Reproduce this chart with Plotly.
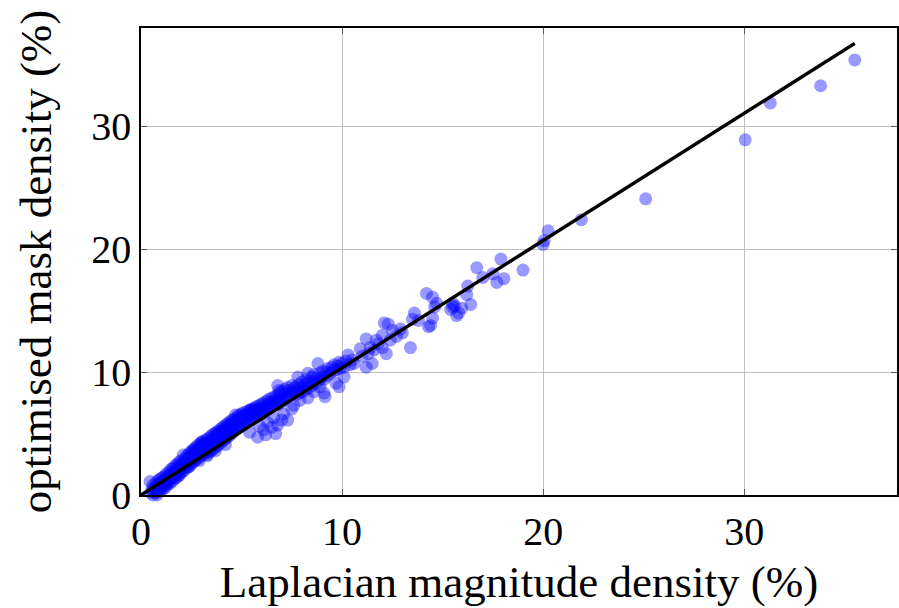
import plotly.graph_objects as go

# ---- data -----------------------------------------------------------------
# Laplacian magnitude density (%) -> lap_*, optimised mask density (%) -> opt_*
lap_a = [0.45, 0.5, 0.55, 0.6, 0.6, 0.65, 0.7, 0.7, 0.75, 0.75, 0.8, 0.8, 0.85, 0.85, 0.9, 0.9, 0.95, 0.95,
         1.0, 1.0, 1.05, 1.05, 1.1, 1.1, 1.15, 1.15, 1.2, 1.2, 1.25, 1.25, 1.3, 1.3, 1.35, 1.35, 1.4, 1.4,
         1.45, 1.45, 1.5, 1.5, 1.55, 1.55, 1.6, 1.6, 1.65, 1.65, 1.7, 1.7, 1.75, 1.75, 1.8, 1.8, 1.85, 1.85,
         1.9, 1.9, 1.95, 1.95, 2.0, 2.0]
opt_a = [1.10, 0.2, 0.5, 0.0, 0.8, 0.3, -0.1, 0.6, 1.0, 0.2, 0.5, 0.0, 0.8, 1.2, 0.3, 0.9, 0.6, 1.3,
         0.4, 1.0, 0.7, 1.4, 0.5, 1.1, 0.8, 1.5, 0.6, 1.2, 0.9, 1.7, 1.3, 0.8, 1.6, 1.05, 1.9, 1.2,
         0.95, 1.6, 2.1, 1.35, 1.8, 1.1, 1.55, 2.2, 1.3, 1.9, 2.4, 1.6, 2.05, 1.4, 2.5, 1.8, 2.2, 1.55,
         2.7, 2.0, 2.35, 1.75, 2.8, 2.1]

lap_b = [2.05, 2.05, 2.1, 2.1, 2.15, 2.15, 2.2, 2.2, 2.25, 2.25, 2.3, 2.3, 2.35, 2.35, 2.4, 2.4, 2.45, 2.45,
         2.5, 2.5, 2.55, 2.55, 2.6, 2.6, 2.65, 2.65, 2.7, 2.7, 2.75, 2.75, 2.8, 2.8, 2.85, 2.85, 2.9, 2.9,
         2.95, 2.95, 3.0, 3.0, 3.05, 3.05, 3.1, 3.1, 3.15, 3.15, 3.2, 3.2, 3.25, 3.25, 3.3, 3.3, 3.35, 3.35,
         3.4, 3.4, 3.45, 3.45, 3.5, 3.5]
opt_b = [2.5, 1.9, 3.25, 2.3, 2.75, 2.0, 3.0, 2.45, 2.2, 2.9, 3.2, 2.6, 2.3, 3.0, 3.4, 2.75, 2.45, 3.15,
         3.55, 2.9, 2.6, 3.3, 3.7, 3.0, 2.75, 3.45, 3.85, 3.15, 2.85, 3.6, 4.0, 3.3, 3.0, 3.75, 4.1, 3.45,
         3.15, 3.9, 4.25, 3.6, 3.3, 4.0, 4.4, 3.7, 3.4, 4.15, 4.2, 3.85, 3.5, 4.5, 4.0, 3.3, 4.6, 3.7,
         4.2, 3.5, 4.75, 3.9, 4.4, 3.6]

lap_c = [3.55, 3.55, 3.6, 3.6, 3.65, 3.65, 3.7, 3.7, 3.75, 3.75, 3.8, 3.8, 3.85, 3.85, 3.9, 3.9, 3.95, 3.95,
         4.0, 4.0, 4.05, 4.05, 4.1, 4.1, 4.15, 4.15, 4.2, 4.2, 4.25, 4.25, 4.3, 4.3, 4.35, 4.35, 4.4, 4.4,
         4.45, 4.45, 4.5, 4.5, 4.55, 4.55, 4.6, 4.6, 4.65, 4.65, 4.7, 4.7, 4.75, 4.75, 4.8, 4.8, 4.85, 4.85,
         4.9, 4.9, 4.95, 4.95, 5.0, 5.0]
opt_c = [4.9, 4.05, 4.55, 3.75, 5.0, 4.2, 4.7, 3.9, 5.1, 4.35, 4.85, 4.0, 5.2, 4.5, 5.0, 4.15, 5.35, 4.65,
         5.15, 4.3, 5.5, 4.8, 5.25, 4.45, 5.6, 4.9, 5.4, 4.6, 5.75, 5.05, 5.5, 4.7, 5.85, 5.15, 5.65, 4.85,
         6.0, 5.3, 5.8, 5.0, 6.1, 5.4, 5.9, 5.15, 6.2, 5.55, 6.5, 5.3, 6.05, 5.7, 6.3, 5.45, 5.85, 6.5,
         5.6, 6.15, 6.4, 5.75, 6.0, 6.6]

lap_d = [5.05, 5.1, 5.1, 5.15, 5.2, 5.2, 5.25, 5.3, 5.3, 5.35, 5.4, 5.4, 5.45, 5.5, 5.5, 5.55, 5.6, 5.6,
         5.65, 5.7, 5.7, 5.75, 5.8, 5.85, 5.9, 5.9, 5.95, 6.0, 6.0, 6.05, 6.1, 6.15, 6.2, 6.25, 6.3, 6.3,
         6.35, 6.4, 6.45, 6.5, 6.5, 6.55, 6.6, 6.65, 6.7, 6.75, 6.8, 6.8, 6.85, 6.9, 6.9, 6.95, 7.0, 7.05,
         7.1, 7.15, 7.2, 7.25, 7.3, 7.35, 7.4, 7.45, 7.5, 7.55, 7.6]
opt_d = [5.85, 6.3, 6.7, 6.05, 6.5, 5.9, 6.8, 6.25, 6.65, 6.0, 6.9, 6.45, 6.2, 6.75, 7.0, 6.4, 6.9, 6.55,
         7.1, 6.7, 6.35, 7.2, 6.9, 6.5, 7.3, 6.8, 7.05, 6.6, 7.4, 7.0, 7.5, 6.8, 7.2, 7.6, 7.0, 7.35,
         7.8, 7.1, 7.5, 7.9, 7.25, 7.65, 7.4, 8.0, 7.55, 7.3, 8.1, 8.9, 7.7, 7.45, 8.3, 7.9, 8.45, 7.65,
         8.1, 8.6, 7.9, 8.3, 8.75, 8.0, 8.5, 8.2, 8.9, 8.35, 8.65]

lap_e = [7.7, 7.75, 7.8, 7.8, 7.85, 7.9, 7.95, 8.0, 8.05, 8.1, 8.2, 8.2, 8.25, 8.3, 8.35, 8.4, 8.5, 8.5,
         8.55, 8.6, 8.7, 8.75, 8.8, 8.85, 8.9, 9.0, 9.05, 9.1, 9.2, 9.25, 9.3, 9.4, 9.5, 9.55, 9.6, 9.7,
         9.8, 9.85, 9.9, 10.0, 10.1, 10.2, 10.3, 10.4, 10.5, 10.6]
opt_e = [8.8, 8.2, 9.6, 8.5, 9.0, 8.3, 8.7, 9.2, 8.4, 8.9, 9.4, 8.6, 9.05, 9.9, 8.7, 9.3, 9.6, 8.9,
         9.2, 9.8, 9.1, 9.5, 10.7, 9.3, 9.9, 9.6, 10.1, 9.4, 10.0, 9.7, 10.3, 9.9, 10.4, 10.1, 10.6, 10.2,
         10.5, 10.8, 10.3, 10.7, 10.4, 10.9, 11.4, 10.6, 11.0, 10.7]

# points lying above and below the main band
lap_off = [1.9, 2.4, 2.9, 3.3, 3.7, 4.2, 5.8, 6.1, 6.2, 6.5, 6.7, 6.8, 7.0, 7.3, 5.4, 5.9, 6.3, 6.6,
           7.1, 7.6, 7.9, 8.3, 8.6, 9.1, 9.15, 9.7, 9.85, 10.1, 8.9, 7.5,
           5.45, 5.7, 5.9, 6.85, 3.0, 2.6]
opt_off = [1.6, 2.3, 2.8, 3.2, 3.6, 4.1, 4.7, 5.3, 4.9, 5.5, 5.0, 5.7, 6.1, 6.1, 5.1, 5.6, 5.9, 6.3,
           6.6, 7.3, 7.7, 7.9, 8.4, 8.3, 8.0, 9.1, 8.8, 9.6, 8.8, 7.0,
           6.9, 7.0, 6.9, 8.5, 4.3, 3.6]

lap_f = [10.9, 11.0, 11.2, 11.2, 11.3, 11.4, 11.5, 11.6, 11.7, 11.8, 12.0, 12.0, 12.1, 12.2,
         12.3, 12.4, 12.5, 12.7, 12.9, 13.0, 13.4, 13.5, 13.6, 13.8, 14.2, 14.3, 14.4, 14.5,
         14.5, 14.6, 14.7]
opt_f = [11.9, 11.3, 12.7, 10.4, 11.5, 12.0, 10.7, 11.8, 12.6, 12.3, 13.0, 12.0, 14.0, 11.5,
         13.9, 12.6, 13.4, 12.9, 13.5, 13.2, 12.0, 14.3, 14.8, 14.2, 16.4, 13.7, 13.8, 16.1,
         14.4, 15.3, 15.6]

lap_g = [15.4, 15.5, 15.6, 15.8, 15.95, 16.2, 16.25, 16.4, 16.7, 17.0, 17.5, 17.7, 17.9, 18.05,
         19.0, 20.0, 20.05, 20.25, 21.9, 25.1, 30.05, 31.3, 33.8, 35.5, 15.5, 15.7]
opt_g = [15.1, 15.6, 15.4, 14.8, 15.2, 16.3, 17.0, 15.5, 18.5, 17.7, 18.0, 17.3, 19.2, 17.6,
         18.3, 20.4, 20.7, 21.5, 22.4, 24.1, 28.9, 31.9, 33.3, 35.4, 15.3, 14.6]

# fitted line end points
fit_x = [0.0, 35.5]
fit_y = [0.0, 36.75]

x_ticks = [0, 10, 20, 30]
y_ticks = [0, 10, 20, 30]

lap = lap_a + lap_b + lap_c + lap_d + lap_e + lap_off + lap_f + lap_g
opt = opt_a + opt_b + opt_c + opt_d + opt_e + opt_off + opt_f + opt_g
assert len(lap) == len(opt)

FONT = "Liberation Serif"

fig = go.Figure()
fig.add_trace(go.Scatter(
    x=lap, y=opt, mode="markers",
    marker=dict(size=13, color="rgb(0,0,255)", opacity=0.4, line=dict(width=0)),
    cliponaxis=False, showlegend=False,
))
fig.add_trace(go.Scatter(
    x=fit_x, y=fit_y, mode="lines",
    line=dict(color="black", width=3.5),
    cliponaxis=False, showlegend=False,
))

axis_common = dict(
    showline=True, linecolor="black", linewidth=1.5, mirror="ticks",
    ticks="inside", ticklen=6, tickcolor="#555555", tickwidth=1,
    showgrid=True, gridcolor="#c0c0c0", gridwidth=1,
    zeroline=False, tickfont=dict(family=FONT, size=40, color="black"),
)

fig.update_layout(
    width=899, height=608,
    margin=dict(l=141, r=2, t=28, b=113),
    paper_bgcolor="white", plot_bgcolor="white",
    font=dict(family=FONT, color="black"),
    xaxis=dict(
        range=[0, 37.6], tickvals=x_ticks, ticktext=[str(v) for v in x_ticks],
        title=dict(text="Laplacian magnitude density (%)", font=dict(family=FONT, size=45), standoff=13),
        automargin=False, **axis_common,
    ),
    yaxis=dict(
        range=[0, 38], tickvals=y_ticks, ticktext=[str(v) for v in y_ticks],
        title=dict(text="optimised mask density (%)", font=dict(family=FONT, size=45), standoff=26),
        automargin=False, **axis_common,
    ),
)

fig.write_html("out.html")
